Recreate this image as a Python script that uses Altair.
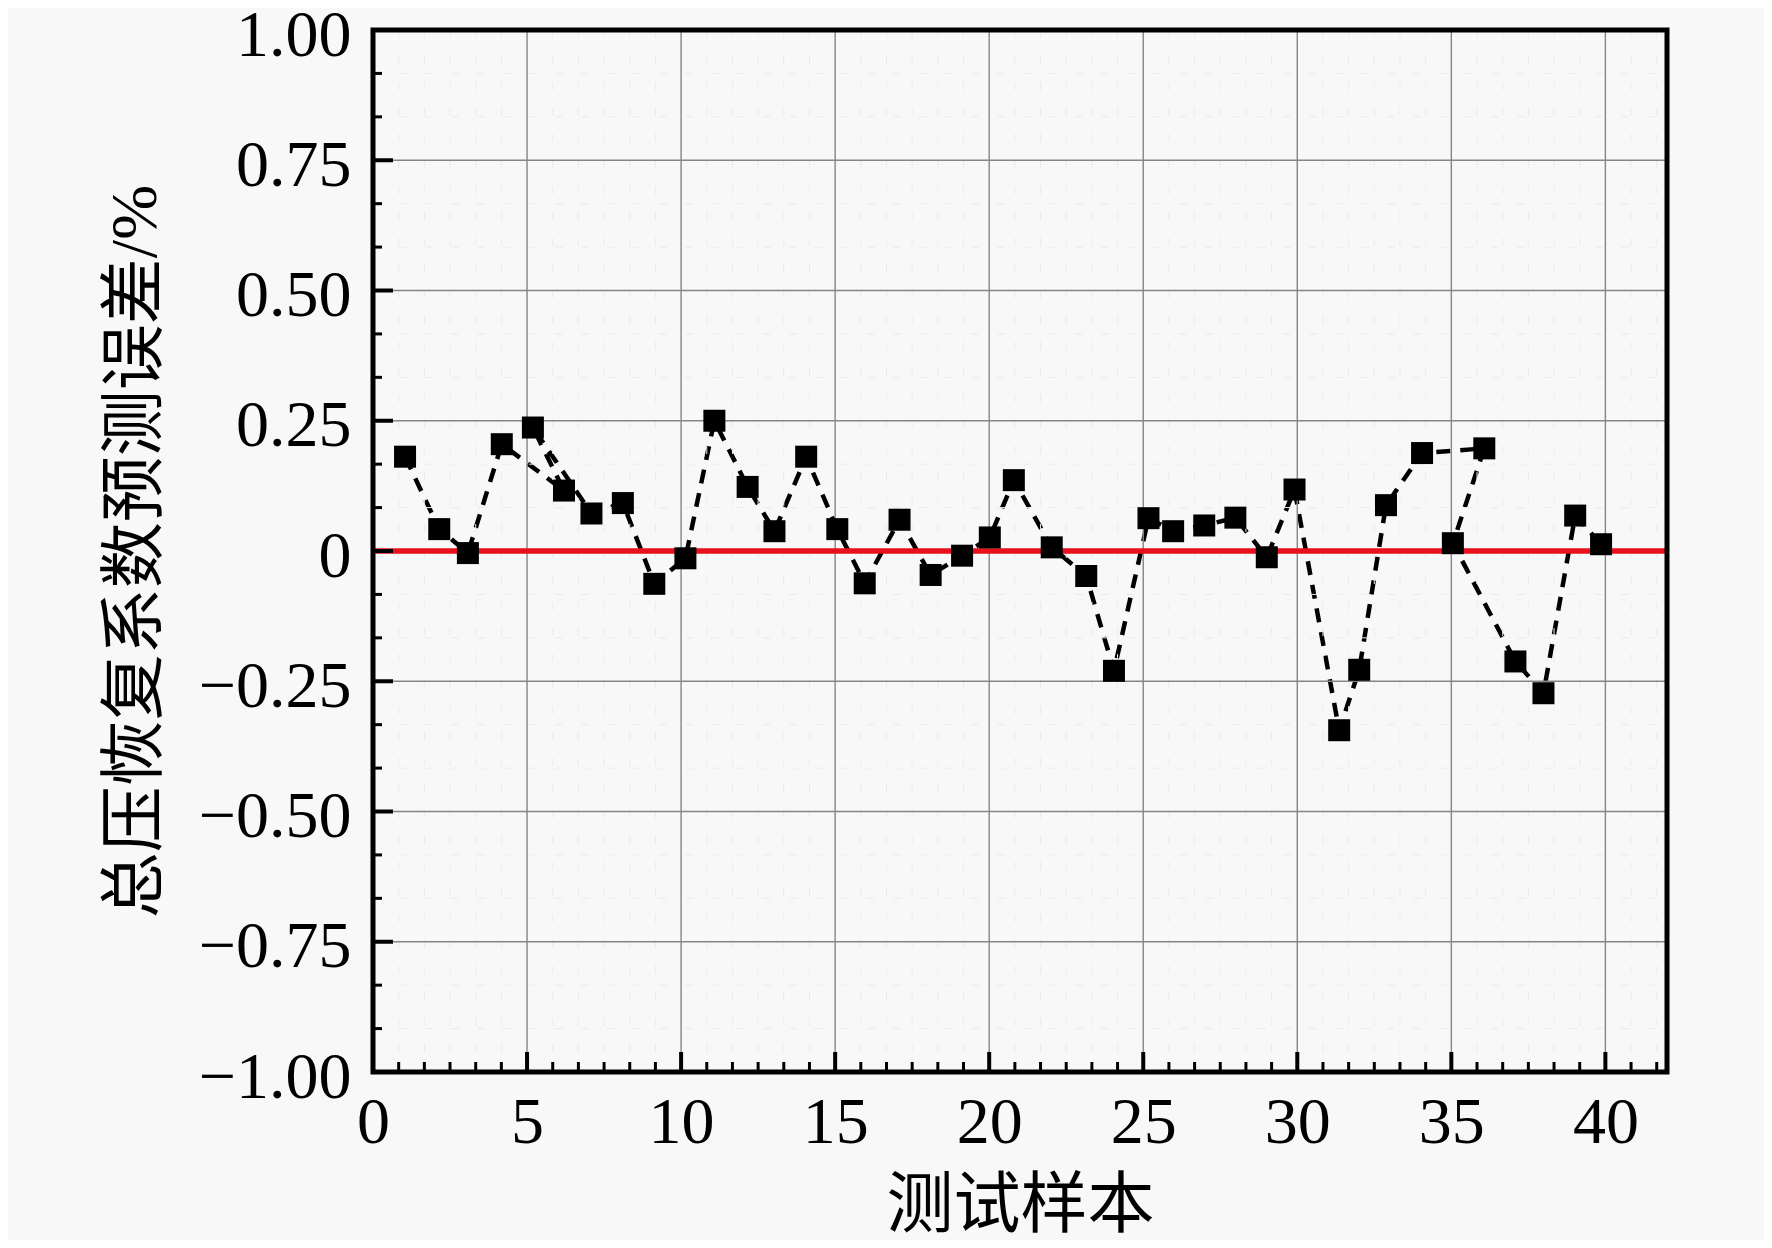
import altair as alt
import pandas as pd

# ---- data (in the order the dashed line visits them) ----
sample_x = [1.04, 2.15, 3.08, 4.18, 6.20, 5.19, 7.09, 8.11, 9.13, 10.14,
            11.08, 12.16, 13.03, 14.06, 15.07, 15.96, 17.09, 18.10, 19.12, 20.02,
            20.80, 22.03, 23.15, 24.05, 25.17, 25.97, 26.98, 27.99, 29.01, 29.91,
            31.36, 32.01, 32.88, 34.05, 36.07, 35.05, 37.08, 37.99, 39.02, 39.86]
error_y = [0.181, 0.042, -0.004, 0.205, 0.116, 0.237, 0.072, 0.092, -0.063, -0.014,
           0.250, 0.123, 0.038, 0.181, 0.042, -0.062, 0.060, -0.046, -0.009, 0.026,
           0.136, 0.007, -0.048, -0.230, 0.063, 0.038, 0.049, 0.064, -0.012, 0.118,
           -0.344, -0.228, 0.088, 0.188, 0.197, 0.015, -0.212, -0.273, 0.068, 0.013]

x_major = [0, 5, 10, 15, 20, 25, 30, 35, 40]
y_major = [-1.0, -0.75, -0.5, -0.25, 0.0, 0.25, 0.5, 0.75, 1.0]
x_title = "测试样本"
y_title = "总压恢复系数预测误差/%"

W, H = 1294, 1042
FONT = "Liberation Serif, 'Times New Roman', 'Noto Sans CJK SC'"

xscale = alt.Scale(domain=[0, 42], nice=False, zero=False)
yscale = alt.Scale(domain=[-1, 1], nice=False, zero=False)

df = pd.DataFrame({"x": sample_x, "y": error_y, "seq": list(range(len(sample_x)))})

x_minor = [k * 5 / 6 for k in range(1, 51) if k % 6 != 0]
y_minor = [k / 12 for k in range(-11, 12) if k % 3 != 0]
x_grid = [v for v in x_major if v > 0]
y_grid = [v for v in y_major if -1 < v < 1]

x_axis = alt.Axis(values=x_major, grid=False, ticks=False, tickSize=0, domain=False,
                  labelFont=FONT, labelFontSize=66, labelColor="black", labelPadding=18,
                  labelFlush=False, labelOverlap=False,
                  title=x_title, titleFont=FONT, titleFontSize=67, titleFontWeight="normal",
                  titleColor="black", titleY=134, titleBaseline="middle")
y_axis = alt.Axis(values=y_major, grid=False, ticks=False, tickSize=0, domain=False,
                  labelExpr="datum.value == 0 ? '0' : format(datum.value, '.2f')",
                  labelFont=FONT, labelFontSize=66, labelColor="black", labelPadding=22,
                  labelOffset=5, labelOverlap=False, labelFlush=False,
                  title=y_title, titleFont=FONT, titleFontSize=66, titleFontWeight="normal",
                  titleColor="black", titleX=-238, titleY=H / 2, titleAngle=270,
                  titleAlign="center", titleBaseline="middle")


def X(field):
    return alt.X(field, scale=xscale, axis=x_axis)


def Y(field):
    return alt.Y(field, scale=yscale, axis=y_axis)


minor_vx = alt.Chart(pd.DataFrame({"v": x_minor})).mark_rule(
    color="#ebebeb", strokeWidth=1, strokeDash=[8, 18]).encode(
    x=X("v:Q"), y=alt.value(0), y2=alt.value(H))
minor_hy = alt.Chart(pd.DataFrame({"v": y_minor})).mark_rule(
    color="#ebebeb", strokeWidth=1, strokeDash=[8, 18]).encode(
    y=Y("v:Q"), x=alt.value(0), x2=alt.value(W))
grid_vx = alt.Chart(pd.DataFrame({"v": x_grid})).mark_rule(
    color="#858585", strokeWidth=1.4).encode(
    x=X("v:Q"), y=alt.value(0), y2=alt.value(H))
grid_hy = alt.Chart(pd.DataFrame({"v": y_grid})).mark_rule(
    color="#858585", strokeWidth=1.4).encode(
    y=Y("v:Q"), x=alt.value(0), x2=alt.value(W))

zero_line = alt.Chart(pd.DataFrame({"v": [0.0]})).mark_rule(
    color="#e8101c", strokeWidth=5.5).encode(
    y=Y("v:Q"), x=alt.value(0), x2=alt.value(W))

line = alt.Chart(df).mark_line(color="black", strokeWidth=4.5, strokeDash=[14, 10]).encode(
    x=X("x:Q"), y=Y("y:Q"), order=alt.Order("seq:Q"))

points = alt.Chart(df).mark_point(shape="square", filled=True, size=484, color="black",
                                  opacity=1).encode(x=X("x:Q"), y=Y("y:Q"))

frame = alt.Chart(pd.DataFrame({"v": [0]})).mark_rect(
    fillOpacity=0, stroke="black", strokeWidth=5).encode(
    x=alt.value(0), x2=alt.value(W), y=alt.value(0), y2=alt.value(H))

xt_major = alt.Chart(pd.DataFrame({"v": x_grid})).mark_rule(
    color="black", strokeWidth=4).encode(
    x=X("v:Q"), y=alt.value(H), y2=alt.value(H - 20))
xt_minor = alt.Chart(pd.DataFrame({"v": x_minor})).mark_rule(
    color="black", strokeWidth=3).encode(
    x=X("v:Q"), y=alt.value(H), y2=alt.value(H - 10))
yt_major = alt.Chart(pd.DataFrame({"v": y_grid})).mark_rule(
    color="black", strokeWidth=4).encode(
    y=Y("v:Q"), x=alt.value(0), x2=alt.value(20))
yt_minor = alt.Chart(pd.DataFrame({"v": y_minor})).mark_rule(
    color="black", strokeWidth=3).encode(
    y=Y("v:Q"), x=alt.value(0), x2=alt.value(9))

chart = alt.layer(
    line, minor_vx, minor_hy, grid_vx, grid_hy, zero_line, points,
    frame, xt_major, xt_minor, yt_major, yt_minor
).properties(
    width=W, height=H,
    autosize=alt.AutoSizeParams(type="none"),
    padding={"left": 365, "top": 22, "right": 97, "bottom": 168},
    background="#f8f8f8",
).configure_view(strokeWidth=0)

chart.save("out.html", embed_options={"renderer": "svg", "actions": False})
